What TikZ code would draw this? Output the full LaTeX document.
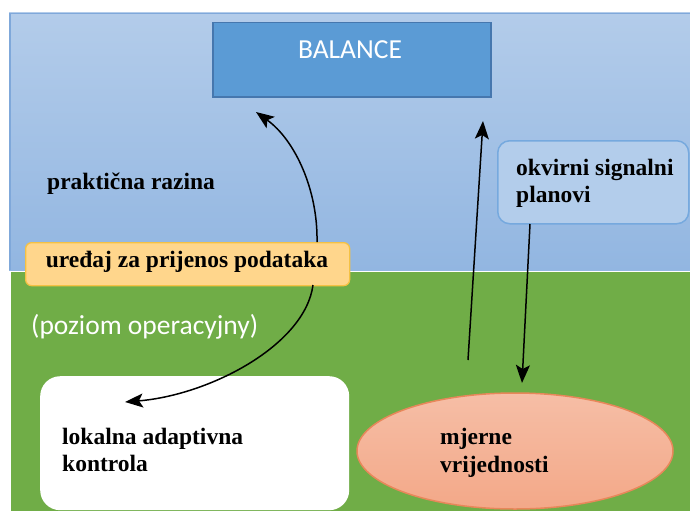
\documentclass[tikz,border=0pt]{standalone}
\usepackage{fontspec}
\setmainfont{Liberation Serif}
\newfontfamily\calibri{Carlito}
\usetikzlibrary{arrows.meta,shapes.geometric}
\definecolor{bluetop}{HTML}{B3CCEA}
\definecolor{bluebot}{HTML}{92B6E1}
\definecolor{blueedge}{HTML}{7FA8DA}
\definecolor{greenbg}{HTML}{70AD47}
\definecolor{balfill}{HTML}{5B9BD5}
\definecolor{baledge}{HTML}{4677AE}
\definecolor{okfill}{HTML}{B3CDEB}
\definecolor{okedge}{HTML}{76A9DE}
\definecolor{gold}{HTML}{FFD68C}
\definecolor{goldedge}{HTML}{F5C143}
\definecolor{salmontop}{HTML}{F6BEA6}
\definecolor{salmonbot}{HTML}{F3A888}
\definecolor{salmonedge}{HTML}{E8875A}
\tikzset{
  boldtxt/.style={font=\fontsize{23.5}{27.5}\selectfont\bfseries, align=left, inner sep=0pt, text=black},
  caltxt/.style={font=\calibri\fontsize{27.5}{32}\selectfont, inner sep=0pt, text=white},
  arr/.style={line width=1.5pt, draw=black, -{Stealth[length=18pt,width=14pt,inset=4pt]}},
}
\begin{document}
\begin{tikzpicture}[x=1pt,y=-1pt]
\useasboundingbox (0,0) rectangle (690,511);
\fill[white] (0,0) rectangle (690,511);
% backgrounds
\shade[top color=bluetop, bottom color=bluebot] (9,13) rectangle (690,270);
\draw[blueedge, line width=1.5pt] (9.75,270) -- (9.75,13.75) -- (690,13.75);
\fill[greenbg] (11,271.5) rectangle (690,511);
% BALANCE
\node[draw=baledge, fill=balfill, line width=1.5pt, minimum width=278pt, minimum height=74pt, inner sep=0pt, anchor=north west] (balance) at (212,22) {};
\node[caltxt, font=\calibri\fontsize{27.5}{32}\selectfont] (baltxt) at (350,50) {BALANCE};
% okvirni signalni planovi
\node[draw=okedge, fill=okfill, line width=1.5pt, rounded corners=12pt, minimum width=191pt, minimum height=83pt, inner sep=0pt, anchor=north west] (okvir) at (497,140) {};
\node[boldtxt, anchor=west] (okvirtxt) at (516,183.5) {okvirni signalni\\planovi};
% prakticna razina
\node[boldtxt, anchor=west] (prak) at (47,184) {praktična razina};
% uredjaj
\node[draw=goldedge, fill=gold, line width=1.3pt, rounded corners=6pt, minimum width=324pt, minimum height=43pt, inner sep=0pt, anchor=north west] (uredjaj) at (25,242) {};
\node[boldtxt] (uredjajtxt) at (187,262) {uređaj za prijenos podataka};
% poziom
\node[caltxt, anchor=west] (poziom) at (31,327) {(poziom operacyjny)};
% local box
\node[fill=white, rounded corners=20pt, minimum width=309pt, minimum height=134pt, inner sep=0pt, anchor=north west] (lokal) at (40,376) {};
\node[boldtxt, anchor=west] (lokaltxt) at (62,450) {lokalna adaptivna\\kontrola};
% ellipse
\node[ellipse, draw=salmonedge, top color=salmontop, bottom color=salmonbot, line width=1.5pt, minimum width=316pt, minimum height=116pt, inner sep=0pt] (mjer) at (515,451) {};
\node[boldtxt, anchor=west] (mjertxt) at (440,453) {mjerne\\vrijednosti};
% coordinates
\coordinate (u1) at (317,242);
\coordinate (t1) at (256,112);
\coordinate (u2) at (313,285);
\coordinate (t2) at (125,402);
\coordinate (s3) at (468,360);
\coordinate (t3) at (483,121);
\coordinate (s4) at (530,224);
\coordinate (t4) at (522,383);
% arrows
\draw[arr] (u1) .. controls (318,190) and (295,140) .. (t1);
\draw[arr] (u2) .. controls (305,345) and (210,395) .. (t2);
\draw[arr] (s3) -- (t3);
\draw[arr] (s4) -- (t4);
\end{tikzpicture}
\end{document}
